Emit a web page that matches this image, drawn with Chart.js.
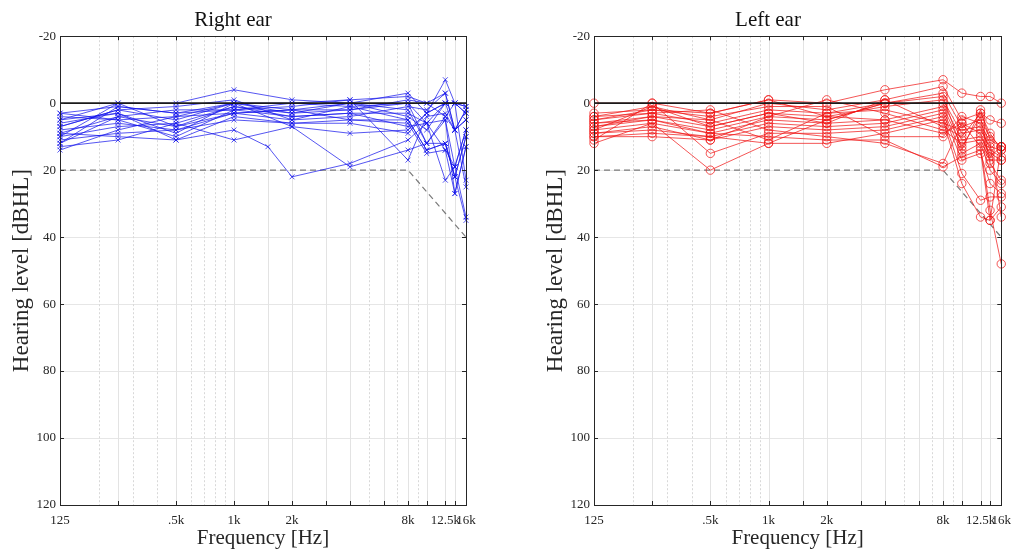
<!DOCTYPE html>
<html>
<head>
<meta charset="utf-8">
<script src="https://cdn.jsdelivr.net/npm/chart.js@4.4.0/dist/chart.umd.min.js"></script>
<style>
body { margin: 0; background: #fff; width: 1011px; height: 555px; overflow: hidden; position: relative; }
.box { position: absolute; top: 0; height: 555px; }
</style>
</head>
<body>
<div class="box" style="left:0;width:485px"><canvas id="rightEar"></canvas></div>
<div class="box" style="left:534px;width:477px"><canvas id="leftEar"></canvas></div>
<script>
// audiometric frequencies (Hz)
const freqsR = [125, 250, 500, 1000, 1500, 2000, 4000, 8000, 10000, 12500, 14000, 16000]
const freqsL = [125, 250, 500, 1000, 2000, 4000, 8000, 10000, 12500, 14000, 16000]

// hearing thresholds per subject (dB HL), right ear
const rightEar = [
    [5, 0, 0, -4, null, -1, 0, -3, 3, -7, 0, 1],
    [3, 1, 3, 0, null, 0, -1, -2, 0, -3, 8, 2],
    [7, 2, 5, 0, null, 2, 2, 0, 6, 0, 0, 3],
    [10, 0, 7, 1, null, 3, 0, 2, 12, 4, 8, 5],
    [12, 4, 2, 2, null, 4, 3, 3, 6, 5, 19, 8],
    [14, 8, 4, 3, null, 5, 1, 5, 14, 12, 22, 10],
    [8, 6, 8, 5, null, 6, 5, 6, 15, 14, 27, 13],
    [6, 3, 9, 0, null, 7, 9, 8, 3, 0, 0, 23],
    [9, 10, 11, 8, 13, 22, 18, 11, 6, 23, 19, 34],
    [13, 11, 6, 11, null, 7, 19, 14, 12, 12, 22, 35],
    [4, 5, 10, 2, null, 1, -1, 17, 4, 3, 8, 25],
    [11, 9, 8, 3, null, 2, 0, 4, 8, 0, 0, 3],
    [7, 2, 1, -1, null, 5, 4, 1, 2, -3, 8, 5],
    [3, 5, 4, 0, null, 3, 2, -1, 0, 4, 0, 1],
    [10, 7, 6, 1, null, 4, 3, 7, 6, 14, 19, 8],
    [5, 3, 11, 4, null, 6, 6, 9, 3, 0, 8, 2],
    [12, 1, 3, 2, null, 0, 1, 0, 12, 5, 27, 13],
    [9, 4, 7, 3, null, 2, 5, 5, 14, 12, 22, 10]
]

// hearing thresholds per subject (dB HL), left ear
const leftEar = [
    [0, 0, 3, -1, 0, -4, -7, -3, -2, -2, 0],
    [4, 1, 5, 0, 2, -1, -5, 5, 3, 5, 6],
    [5, 3, 6, 2, 3, 0, -3, 7, 5, 10, 13],
    [6, 4, 7, 3, 4, 1, -1, 9, 8, 13, 14],
    [7, 5, 8, 4, 5, 0, 0, 11, 10, 15, 17],
    [8, 6, 9, 5, 6, 5, 1, 13, 4, 18, 23],
    [9, 8, 10, 6, 7, 6, 2, 15, 12, 20, 24],
    [10, 10, 11, 7, 8, 7, 3, 17, 15, 24, 27],
    [11, 0, 15, 9, 9, 8, 4, 21, 29, 28, 28],
    [12, 6, 20, 12, 12, 9, 5, 24, 34, 35, 31],
    [3, 2, 4, 1, 1, 10, 10, 4, 6, 12, 34],
    [4, 3, 2, 8, 10, 12, 18, 6, 13, 32, 48],
    [6, 5, 9, 10, 11, 11, 19, 16, 14, 35, 13],
    [7, 4, 5, 11, 3, 2, 6, 8, 7, 14, 16],
    [8, 1, 7, 3, 6, -1, 7, 10, 3, 9, 14],
    [9, 7, 11, 4, -1, 3, 8, 12, 11, 17, 17],
    [5, 2, 3, -1, 4, 5, 9, 6, 9, 16, 13],
    [10, 9, 10, 12, 5, 0, -2, 14, 2, 11, 13]
]

// reference lines
const normalFreqs = [125, 16000]
const normalLevel = [0, 0]
const limitFreqs = [125, 8000, 16000]
const limitLevel = [20, 20, 40]

// axis ticks
const tickFreqs = [125, 500, 1000, 2000, 8000, 12500, 16000]
const tickNames = ['125', '.5k', '1k', '2k', '8k', '12.5k', '16k']
const levelTicks = [-20, 0, 20, 40, 60, 80, 100, 120]

const SERIF = "'Liberation Serif', 'Times New Roman', serif"
const majorGrid = [250, 500, 1000, 1500, 2000, 3000, 4000, 6000, 8000, 10000, 12500, 14000]
const minorGrid = [200, 300, 400, 600, 700, 800, 900, 5000, 7000, 9000]

const toPoints = (xs, ys) => xs.map((f, i) => ({x: f, y: ys[i]})).filter(p => p.y !== null)

const frame = {
    id: 'frame',
    beforeDatasetsDraw(chart) {
        const {ctx, chartArea: a, scales: {x}} = chart
        ctx.save()
        ctx.lineWidth = 1
        ctx.strokeStyle = '#d8d8d8'
        ctx.setLineDash([2, 2])
        minorGrid.forEach(f => {
            const px = Math.round(x.getPixelForValue(f)) + 0.5
            ctx.beginPath(); ctx.moveTo(px, a.top); ctx.lineTo(px, a.bottom); ctx.stroke()
        })
        ctx.setLineDash([])
        ctx.strokeStyle = '#e3e3e3'
        majorGrid.forEach(f => {
            const px = Math.round(x.getPixelForValue(f)) + 0.5
            ctx.beginPath(); ctx.moveTo(px, a.top); ctx.lineTo(px, a.bottom); ctx.stroke()
        })
        ctx.restore()
    },
    afterDraw(chart) {
        const {ctx, chartArea: a, scales: {x, y}} = chart
        ctx.save()
        ctx.strokeStyle = '#262626'
        ctx.lineWidth = 1
        ctx.strokeRect(Math.round(a.left) + 0.5, Math.round(a.top) + 0.5,
            Math.round(a.right - a.left), Math.round(a.bottom - a.top))
        // inward tick marks
        ctx.beginPath()
        majorGrid.concat(tickFreqs).forEach(f => {
            const px = Math.round(x.getPixelForValue(f)) + 0.5
            ctx.moveTo(px, a.bottom); ctx.lineTo(px, a.bottom - 4)
            ctx.moveTo(px, a.top); ctx.lineTo(px, a.top + 4)
        })
        levelTicks.forEach(v => {
            const py = Math.round(y.getPixelForValue(v)) + 0.5
            ctx.moveTo(a.left, py); ctx.lineTo(a.left + 4, py)
            ctx.moveTo(a.right, py); ctx.lineTo(a.right - 4, py)
        })
        ctx.stroke()
        ctx.restore()
    }
}

function makeChart(id, title, freqs, subjects, color, marker, radius) {
    const datasets = subjects.map((s, i) => ({
        label: 'S' + (i + 1),
        data: toPoints(freqs, s),
        borderColor: color,
        borderWidth: 0.8,
        pointStyle: marker,
        pointRadius: radius,
        pointBorderColor: color,
        pointBorderWidth: 0.8,
        pointBackgroundColor: 'rgba(0,0,0,0)',
        tension: 0,
        clip: 8
    }))
    datasets.unshift({
        label: 'normal',
        data: toPoints(normalFreqs, normalLevel),
        borderColor: '#1a1a1a',
        borderWidth: 1.6,
        pointRadius: 0
    })
    datasets.push({
        label: 'limit',
        data: toPoints(limitFreqs, limitLevel),
        borderColor: '#7a7a7a',
        borderWidth: 1.2,
        borderDash: [6, 4],
        pointRadius: 0
    })
    return new Chart(document.getElementById(id), {
        type: 'line',
        data: {datasets},
        options: {
            responsive: true,
            maintainAspectRatio: false,
            animation: false,
            layout: {padding: {left: 0, right: id === 'rightEar' ? 19 : 9, top: 0, bottom: 0}},
            plugins: {
                legend: {display: false},
                tooltip: {enabled: false},
                title: {
                    display: true,
                    text: title,
                    color: '#111',
                    font: {family: SERIF, size: 21, weight: 'normal'},
                    padding: {top: 8, bottom: 3}
                }
            },
            scales: {
                x: {
                    type: 'logarithmic',
                    min: 125,
                    max: 16000,
                    afterFit: s => { s.height = 50 },
                    afterBuildTicks: s => { s.ticks = tickFreqs.map(v => ({value: v})) },
                    grid: {display: false},
                    border: {display: false},
                    ticks: {
                        autoSkip: false,
                        maxRotation: 0,
                        padding: 0,
                        color: '#262626',
                        font: {family: SERIF, size: 13},
                        callback: v => tickNames[tickFreqs.indexOf(v)] ?? ''
                    },
                    title: {
                        display: true,
                        text: 'Frequency [Hz]',
                        color: '#262626',
                        font: {family: SERIF, size: 21},
                        padding: {top: 0, bottom: 4}
                    }
                },
                y: {
                    reverse: true,
                    min: -20,
                    max: 120,
                    afterFit: s => { s.width = 60 },
                    grid: {color: '#e6e6e6', drawTicks: false},
                    border: {display: false},
                    ticks: {
                        stepSize: 20,
                        padding: 4,
                        color: '#262626',
                        font: {family: SERIF, size: 13}
                    },
                    title: {
                        display: true,
                        text: 'Hearing level [dBHL]',
                        color: '#262626',
                        font: {family: SERIF, size: 23},
                        padding: {top: 8, bottom: 0}
                    }
                }
            }
        },
        plugins: [frame]
    })
}

makeChart('rightEar', 'Right ear', freqsR, rightEar, 'rgba(20,20,235,0.9)', 'crossRot', 3.5)
makeChart('leftEar', 'Left ear', freqsL, leftEar, 'rgba(240,20,20,0.9)', 'circle', 4.2)
</script>
</body>
</html>
